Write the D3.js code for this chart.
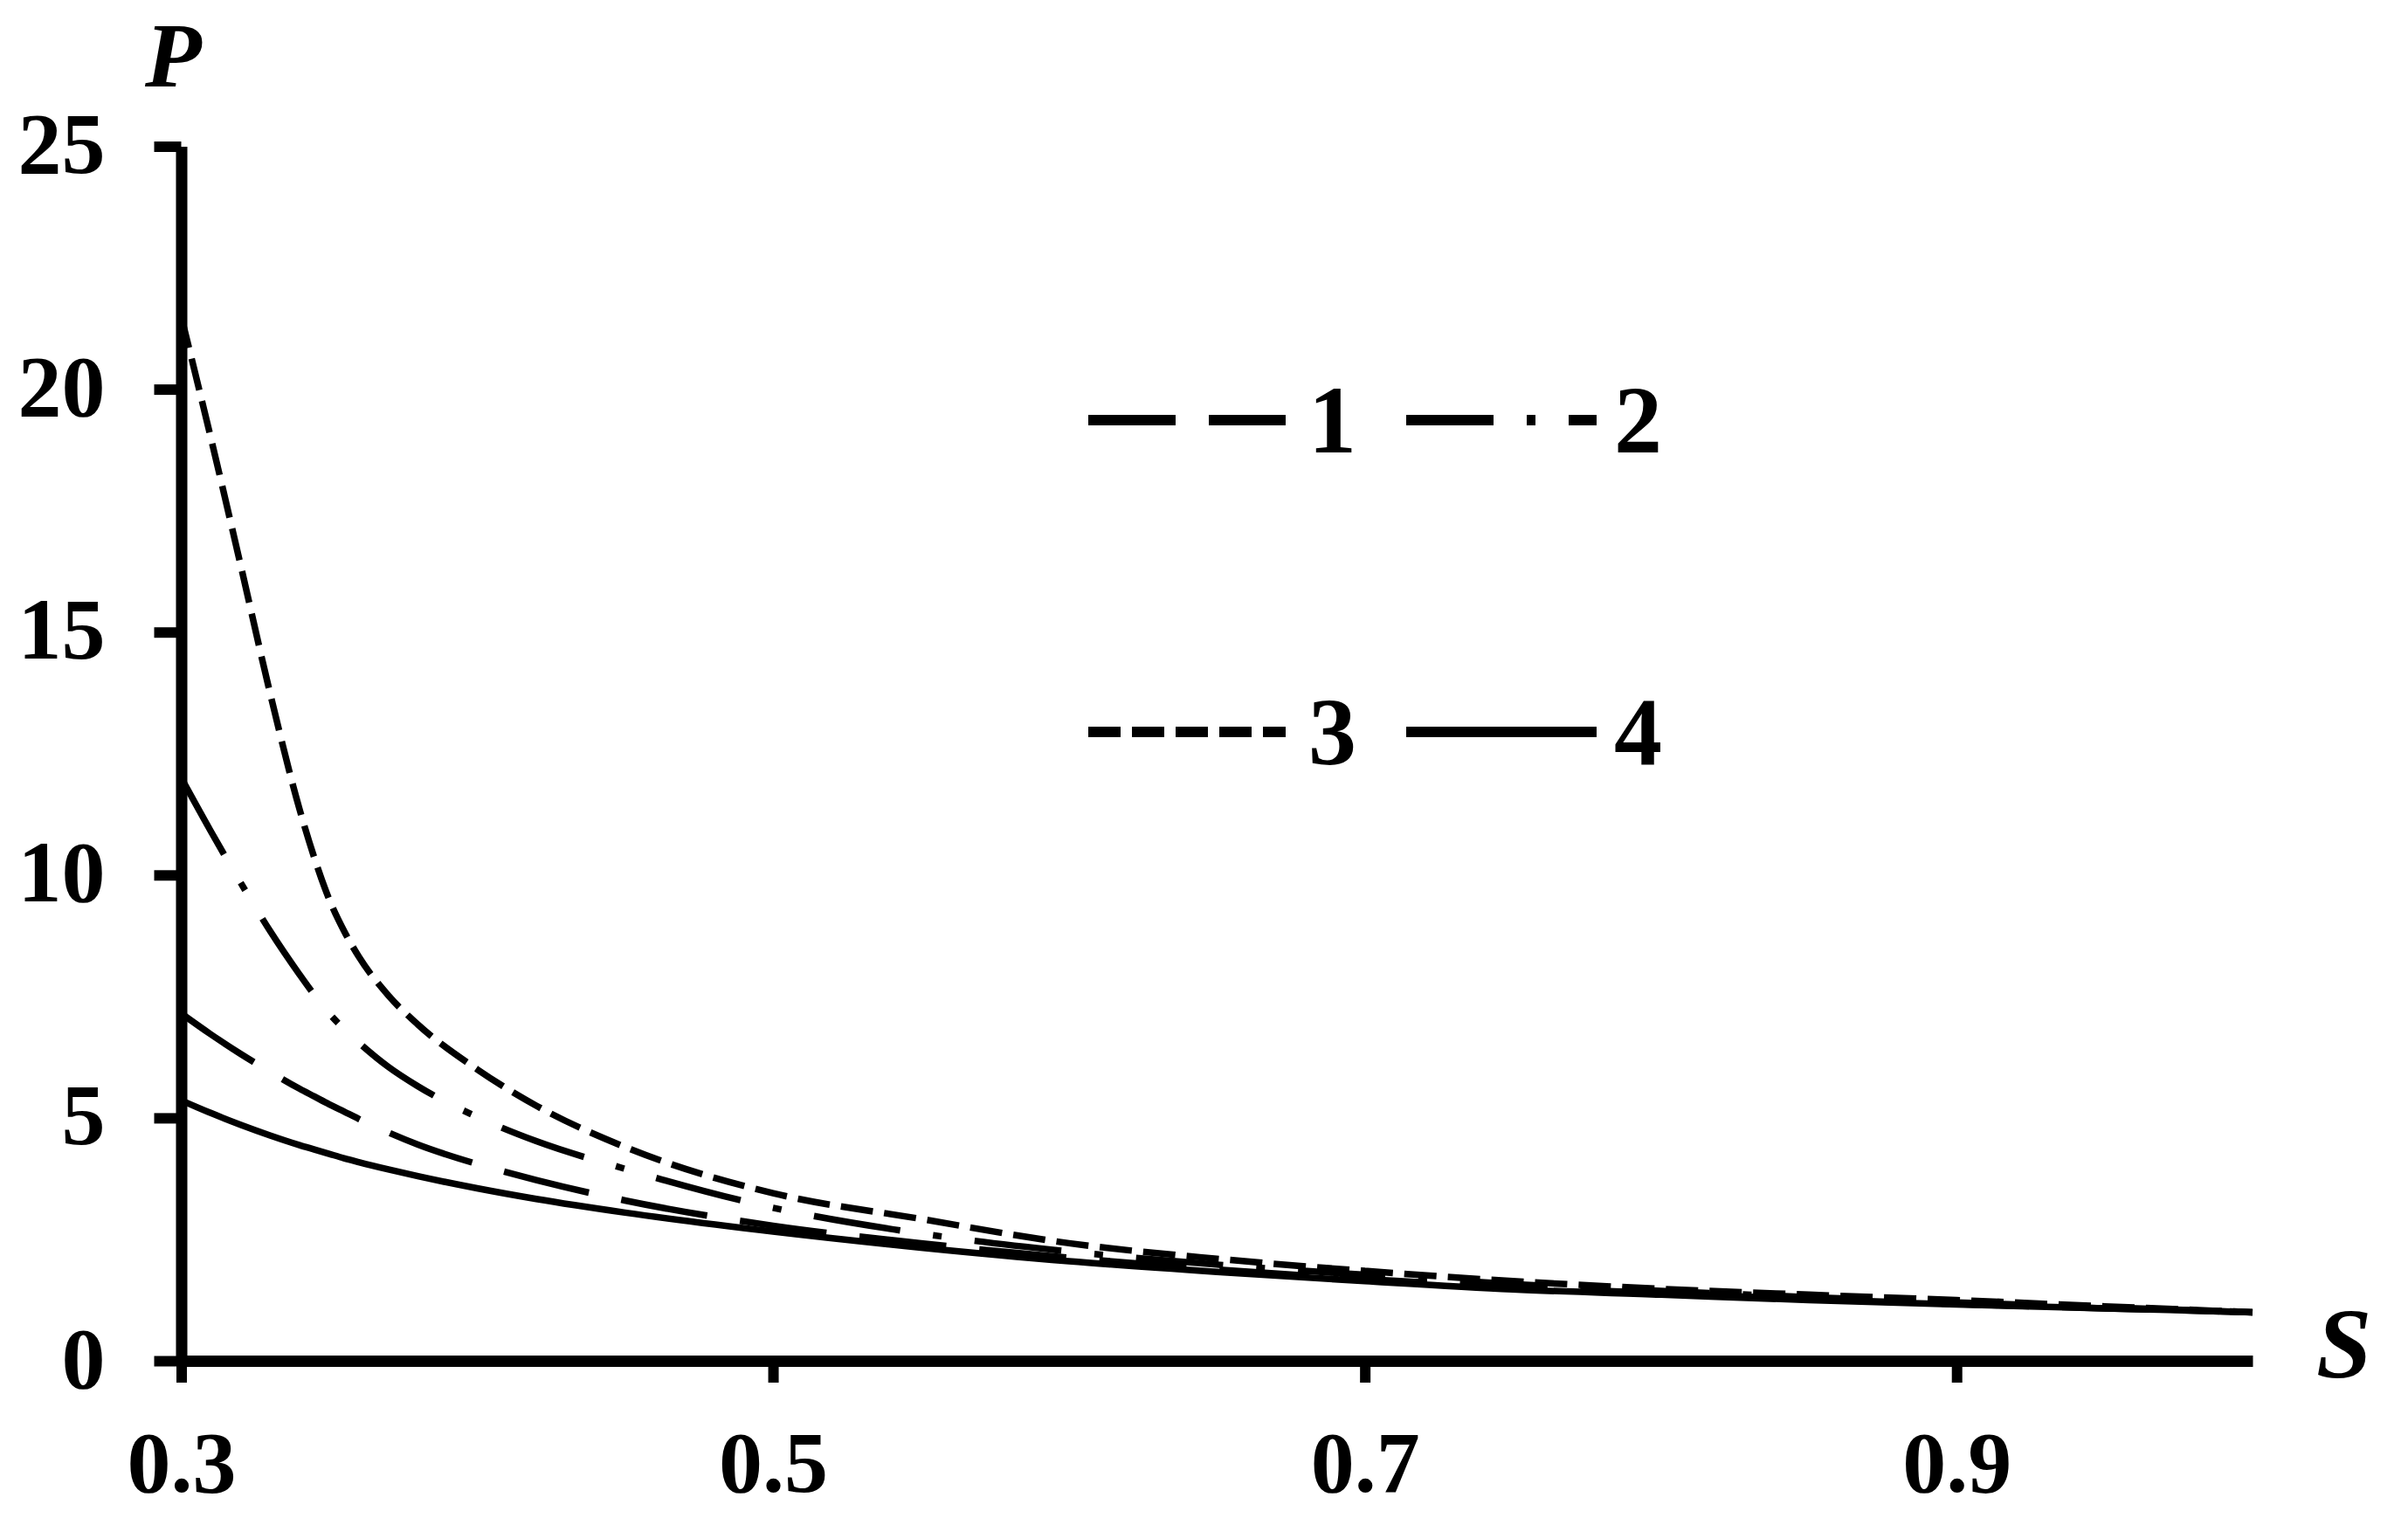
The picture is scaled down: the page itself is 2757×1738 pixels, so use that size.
<!DOCTYPE html>
<html>
<head>
<meta charset="utf-8">
<script src="https://cdn.jsdelivr.net/npm/d3@7"></script>
<style>
  body { margin: 0; background: #fff; }
  svg text { font-family: "Liberation Serif", "Times New Roman", serif; font-weight: bold; fill: #000; }
</style>
</head>
<body>
<svg id="chart" width="2757" height="1738"></svg>
<script>
  var sValues = [0.30, 0.31, 0.32, 0.33, 0.34, 0.345, 0.35, 0.355, 0.36, 0.37, 0.38, 0.40, 0.42, 0.45,
    0.50, 0.55, 0.60, 0.65, 0.70, 0.75, 0.80, 0.85, 0.90, 0.95, 1.00];

  var curve1 = [7.15, 6.72, 6.32, 5.95, 5.60, 5.44, 5.28, 5.13, 4.98, 4.70, 4.45, 4.05, 3.72, 3.30,
    2.78, 2.42, 2.12, 1.88, 1.68, 1.52, 1.39, 1.27, 1.17, 1.08, 1.00];
  var curve2 = [12.0, 10.9, 9.85, 8.85, 7.95, 7.53, 7.15, 6.83, 6.55, 6.05, 5.65, 5.02, 4.52, 3.95,
    3.15, 2.62, 2.25, 1.98, 1.77, 1.58, 1.44, 1.31, 1.20, 1.10, 1.00];
  var curve3 = [21.5, 19.0, 16.4, 13.75, 11.35, 10.35, 9.5, 8.85, 8.32, 7.52, 6.92, 6.0, 5.25, 4.40,
    3.45, 2.92, 2.42, 2.10, 1.85, 1.64, 1.48, 1.36, 1.25, 1.12, 1.00];
  var curve4 = [5.36, 5.10, 4.86, 4.64, 4.44, 4.35, 4.26, 4.17, 4.09, 3.94, 3.80, 3.55, 3.33, 3.05,
    2.66, 2.33, 2.05, 1.83, 1.64, 1.47, 1.36, 1.25, 1.16, 1.08, 1.00];

  var seriesNames = ["1", "2", "3", "4"];
  var seriesValues = [curve1, curve2, curve3, curve4];
  var seriesDash = ["100,38", "100,38,10,38", "37,13", null];

  var xTicks = [0.3, 0.5, 0.7, 0.9];
  var yTicks = [0, 5, 10, 15, 20, 25];

  var svg = d3.select("#chart");

  var x = d3.scaleLinear().domain([0.3, 1.0]).range([207.5, 2579]);
  var y = d3.scaleLinear().domain([0, 25]).range([1558, 167.5]);

  // axes
  var yAxis = svg.append("g")
    .attr("transform", "translate(" + x(0.3) + ",0)")
    .call(d3.axisLeft(y).tickValues(yTicks).tickSize(31).tickSizeOuter(0).tickPadding(56)
      .tickFormat(d3.format("d")));

  var xAxis = svg.append("g")
    .attr("transform", "translate(0," + y(0) + ")")
    .call(d3.axisBottom(x).tickValues(xTicks).tickSize(25).tickSizeOuter(0).tickPadding(54)
      .tickFormat(d3.format(".1f")));

  [yAxis, xAxis].forEach(function (g) {
    g.select(".domain").attr("stroke", "#000").attr("stroke-width", 13);
    g.selectAll(".tick line").attr("stroke", "#000").attr("stroke-width", 12);
    g.selectAll(".tick text")
      .attr("font-size", 100)
      .attr("font-family", null);
  });
  yAxis.selectAll(".tick text").attr("dy", "0.30em");

  // curves
  var line = d3.line()
    .x(function (d) { return x(d[0]); })
    .y(function (d) { return y(d[1]); })
    .curve(d3.curveMonotoneX);

  seriesValues.forEach(function (vals, i) {
    var pts = sValues.map(function (s, j) { return [s, vals[j]]; });
    svg.append("path")
      .datum(pts)
      .attr("fill", "none")
      .attr("stroke", "#000")
      .attr("stroke-width", 7.5)
      .attr("stroke-dasharray", seriesDash[i])
      .attr("d", line);
  });

  // axis titles
  svg.append("text")
    .attr("x", 166)
    .attr("y", 99)
    .attr("font-size", 106)
    .attr("font-style", "italic")
    .text("P");

  svg.append("text")
    .attr("x", 2652)
    .attr("y", 1577)
    .attr("font-size", 114)
    .attr("font-style", "italic")
    .text("S");

  // legend, two columns by two rows
  var legendCols = [1246, 1610];
  var legendRows = [481, 838];
  var legendLen = [226, 218];
  var legendGap = [26, 20];

  seriesNames.forEach(function (name, i) {
    var col = i % 2, row = Math.floor(i / 2);
    var lx = legendCols[col], ly = legendRows[row];
    var g = svg.append("g").attr("class", "legend-item");
    g.append("line")
      .attr("x1", lx)
      .attr("x2", lx + legendLen[col])
      .attr("y1", ly)
      .attr("y2", ly)
      .attr("stroke", "#000")
      .attr("stroke-width", 12)
      .attr("stroke-dasharray", seriesDash[i]);
    g.append("text")
      .attr("x", lx + legendLen[col] + legendGap[col])
      .attr("y", ly + 37)
      .attr("font-size", 110)
      .text(name);
  });
</script>
</body>
</html>
